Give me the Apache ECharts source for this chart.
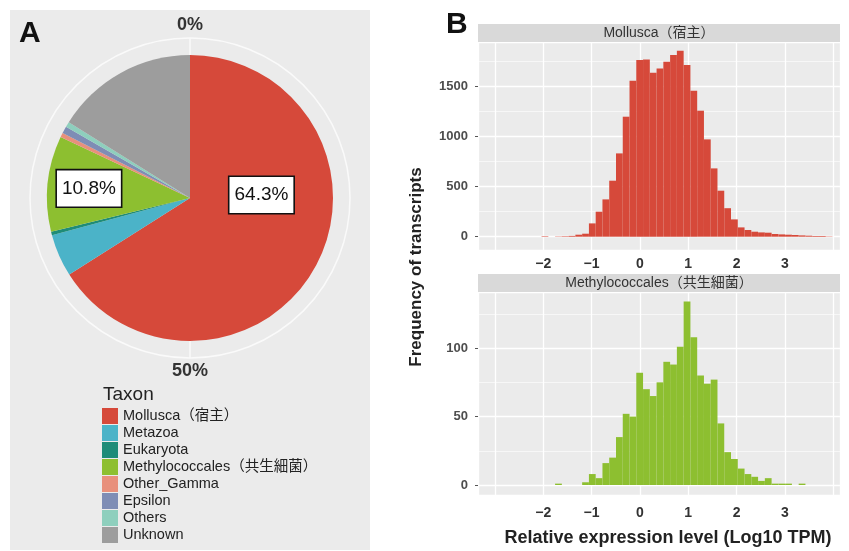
<!DOCTYPE html>
<html><head><meta charset="utf-8">
<script src="https://cdn.jsdelivr.net/npm/echarts@6/dist/echarts.min.js"></script>
<style>html,body{margin:0;padding:0;background:#fff}#c{width:849px;height:551px}</style>
</head><body><div id="c"></div>
<script>
// ---------- data ----------
const taxa = ['Mollusca（宿主）','Metazoa','Eukaryota','Methylococcales（共生細菌）','Other_Gamma','Epsilon','Others','Unknown'];
// slice sizes as drawn in the picture (percent of the circle)
const taxonShares = [66.0, 4.8, 0.4, 10.8, 0.5, 0.8, 0.6, 16.1];
// percentages printed in the boxes
const sliceLabelNames = ['Mollusca（宿主）','Methylococcales（共生細菌）'];
const sliceLabelTexts = ['64.3%','10.8%'];
const taxonColors = ['#d6493a','#4bb3c8','#1e8c78','#8dbf30','#e8907c','#7e8db5','#8ecfbd','#9d9d9d'];
const angleTickValues = [0, 50];

const facetTitles = ['Mollusca（宿主）','Methylococcales（共生細菌）'];
const binStart = -2.035, binWidth = 0.14;
const molluscaCounts = [5,0,3,5,8,20,30,133,250,373,560,833,1200,1560,1767,1773,1640,1683,1750,1817,1860,1717,1460,1260,973,683,460,285,173,93,67,50,43,40,27,23,20,17,13,10,7,7,3];
const methCounts = [0,0,1,0,0,0,2,8,5,16,20,35,52,50,82,70,65,75,90,88,101,134,108,80,74,77,45,24,19,12,8,6,3,5,1,1,1,0,1,0,0,0,0];
const xTickLabels = [-2,-1,0,1,2,3];
const topYTicks = [0,500,1000,1500];
const bottomYTicks = [0,50,100];

// ---------- layout ----------
const FONT = "'Liberation Sans','Noto Sans CJK JP',sans-serif";
const PIE_C = [190, 198], PIE_R = 143, RING_R = 160;
const labelAnchors = {'Mollusca（宿主）': [87.6, 0.5], 'Methylococcales（共生細菌）': [275.4, 0.71]};
const GL = 478, GW = 362;
const grids = [{left: GL, top: 42, width: GW, height: 208}, {left: GL, top: 292, width: GW, height: 203}];
const strips = [{y: 24, h: 18}, {y: 274, h: 18}];

function bins(counts){ return counts.map((c,i)=>[binStart+i*binWidth, binStart+(i+1)*binWidth, c]); }
function histItem(params, api){
  const p0 = api.coord([api.value(0), api.value(2)]);
  const p1 = api.coord([api.value(1), 0]);
  return {type:'rect', shape:{x:p0[0], y:p0[1], width:p1[0]-p0[0], height:p1[1]-p0[1]}, style:{fill: api.visual('color')}};
}
const minus = v => String(v).replace('-', '\u2212');

function xAxisFor(gi, labelMargin){
  return {type:'value', gridIndex: gi, min: -3.35, max: 4.14, minInterval: 1, maxInterval: 1,
    axisLine:{show:false, onZero:false}, axisTick:{show:false},
    splitLine:{show:true, lineStyle:{color:'#fff', width:1.3}},
    axisLabel:{margin: labelMargin, fontSize:14, fontWeight:'bold', color:'#333', fontFamily: FONT,
      showMinLabel:false, showMaxLabel:false,
      formatter: v => xTickLabels.includes(v) ? minus(v) : ''}};
}
function yAxisFor(gi, mn, mx, step, ticks){
  return {type:'value', gridIndex: gi, min: mn, max: mx, minInterval: step, maxInterval: step,
    axisLine:{show:false, onZero:false}, axisTick:{show:true, length:3, lineStyle:{color:'#555'}},
    splitLine:{show:true, lineStyle:{color:'#fff', width:1.3}},
    minorTick:{show:false, splitNumber:2},
    minorSplitLine:{show:true, lineStyle:{color:'#fff', width:0.6}},
    axisLabel:{margin:10, fontSize:13, fontWeight:'bold', color:'#4d4d4d', fontFamily: FONT,
      showMinLabel:false, showMaxLabel:false,
      formatter: v => ticks.includes(v) ? String(v) : ''}};
}

const graphic = [
  {type:'rect', z:-10, shape:{x:10, y:10, width:360, height:540}, style:{fill:'#ebebeb'}},
  {type:'text', z:20, x:19, y:19, style:{text:'A', fontSize:30, fontWeight:'bold', fontFamily:FONT, fill:'#111'}},
  {type:'text', z:20, x:446, y:10, style:{text:'B', fontSize:30, fontWeight:'bold', fontFamily:FONT, fill:'#111'}},
  {type:'text', z:20, x:416, y:267, rotation: Math.PI/2,
    style:{text:'Frequency of transcripts', fontSize:17, fontWeight:'bold', fontFamily:FONT, fill:'#222', textAlign:'center', textVerticalAlign:'middle'}},
  {type:'text', z:20, x:668, y:538,
    style:{text:'Relative expression level (Log10 TPM)', fontSize:18, fontWeight:'bold', fontFamily:FONT, fill:'#222', textAlign:'center', textVerticalAlign:'middle'}}
];
strips.forEach((s, i) => {
  graphic.push({type:'rect', z:15, shape:{x:GL, y:s.y, width:GW, height:s.h}, style:{fill:'#d9d9d9'}});
  graphic.push({type:'text', z:16, x:GL+GW/2, y:s.y+s.h/2+0.5,
    style:{text:facetTitles[i], fontSize:14, fontFamily:FONT, fill:'#333', textAlign:'center', textVerticalAlign:'middle'}});
});

const option = {
  animation: false,
  textStyle: {fontFamily: FONT},
  graphic: graphic,
  title: [{text:'Taxon', left:103, top:385, padding:0, textStyle:{fontSize:19, fontWeight:'normal', color:'#222', fontFamily:FONT}}],
  legend: {orient:'vertical', left:102, top:408, padding:0, height:160, itemWidth:16, itemHeight:16, itemGap:1, icon:'rect',
    selectedMode:false, data: taxa, textStyle:{fontSize:14.5, color:'#222', fontFamily:FONT}},
  polar: {center: PIE_C, radius: RING_R},
  angleAxis: {type:'value', min:0, max:100, minInterval:50, maxInterval:50, startAngle:90, clockwise:true,
    axisLine:{show:true, lineStyle:{color:'#fafafa', width:1.5}},
    axisTick:{show:false},
    splitLine:{show:true, lineStyle:{color:'#fafafa', width:1.5}},
    axisLabel:{margin:4, fontSize:18, fontWeight:'bold', color:'#333', fontFamily:FONT,
      formatter: v => angleTickValues.includes(v) ? v + '%' : ''}},
  radiusAxis: {type:'value', min:0, max:1, show:false},
  grid: grids.map(g => Object.assign({show:true, backgroundColor:'#ebebeb', borderWidth:0}, g)),
  xAxis: [xAxisFor(0, 7), xAxisFor(1, 11)],
  yAxis: [yAxisFor(0, -133, 1947, 500, topYTicks), yAxisFor(1, -7.3, 141, 50, bottomYTicks)],
  series: [
    {type:'pie', center: PIE_C, radius: PIE_R, startAngle: 90, clockwise: true, z: 3,
      itemStyle:{borderWidth:0},
      emphasis:{disabled:true},
      label:{position:'inside', fontSize:19, color:'#111', fontFamily:FONT,
        formatter: p => sliceLabelTexts[sliceLabelNames.indexOf(p.name)],
        backgroundColor:'#fff', borderColor:'#111', borderWidth:1.6, padding:[9,5,8,5], lineHeight:19},
      labelLine:{show:false},
      labelLayout: function(p){
        const name = taxa[p.dataIndex];
        const a = labelAnchors[name];
        if (!a) return {};
        const t = a[0] * Math.PI / 180, r = a[1] * PIE_R;
        return {x: PIE_C[0] + r*Math.sin(t), y: PIE_C[1] - r*Math.cos(t), align:'center', verticalAlign:'middle'};
      },
      data: taxa.map((n,i)=>({name:n, value:taxonShares[i], itemStyle:{color:taxonColors[i]}, label:{show: sliceLabelNames.includes(n)}}))
    },
    {type:'custom', xAxisIndex:0, yAxisIndex:0, renderItem: histItem, encode:{x:[0,1], y:2},
      itemStyle:{color:'#d6493a'}, data: bins(molluscaCounts)},
    {type:'custom', xAxisIndex:1, yAxisIndex:1, renderItem: histItem, encode:{x:[0,1], y:2},
      itemStyle:{color:'#8dbf30'}, data: bins(methCounts)}
  ]
};
const chart = echarts.init(document.getElementById('c'), null, {renderer:'canvas'});
chart.setOption(option);
</script></body></html>
